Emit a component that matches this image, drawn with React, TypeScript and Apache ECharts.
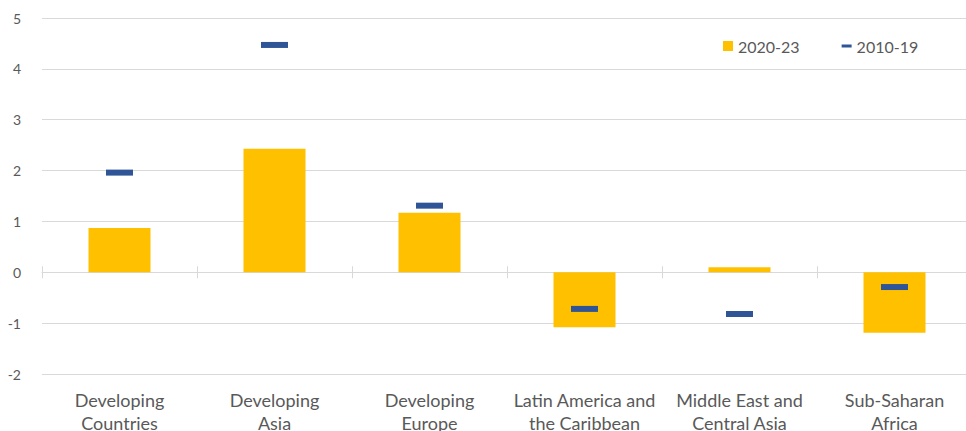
import React, { useEffect, useRef } from "react";
import * as echarts from "echarts";

const categories = [
  "Developing\nCountries",
  "Developing\nAsia",
  "Developing\nEurope",
  "Latin America and\nthe Caribbean",
  "Middle East and\nCentral Asia",
  "Sub-Saharan\nAfrica",
];
const values2020_23 = [0.87, 2.43, 1.17, -1.08, 0.1, -1.19];
const values2010_19 = [1.96, 4.47, 1.31, -0.72, -0.82, -0.29];
const seriesNames = ["2020-23", "2010-19"];
const yMin = -2;
const yMax = 5;

export default function App() {
  const ref = useRef<HTMLDivElement>(null);
  useEffect(() => {
    if (!ref.current) return;
    const chart = echarts.init(ref.current, null, { renderer: "svg" });
    const font = "Lato, 'Open Sans', sans-serif";
    const gridBox = {
      left: 42,
      right: -6,
      top: 18,
      bottom: 57,
      containLabel: false,
      outerBoundsMode: "none",
    };
    chart.setOption({
      animation: false,
      textStyle: { fontFamily: font },
      grid: [gridBox, { ...gridBox }],
      legend: {
        left: 718,
        top: 33,
        itemWidth: 10,
        itemHeight: 10,
        itemGap: 42,
        textStyle: { fontSize: 16, color: "#595959", fontFamily: font },
        data: [
          { name: seriesNames[0], icon: "rect" },
          { name: seriesNames[1], icon: "path://M0,0M0,3.5h10v3h-10zM10,10" },
        ],
      },
      xAxis: [
        {
          type: "category",
          gridIndex: 0,
          data: categories,
          position: "bottom",
          axisLine: { onZero: true, lineStyle: { color: "#D9D9D9", width: 1 } },
          axisTick: { show: true, length: 6, lineStyle: { color: "#D9D9D9" } },
          axisLabel: {
            interval: 0,
            margin: 14,
            fontSize: 18,
            lineHeight: 23,
            color: "#595959",
            fontFamily: font,
          },
        },
        {
          type: "category",
          gridIndex: 1,
          data: categories,
          position: "top",
          axisLine: { show: false, onZero: true },
          axisTick: { show: true, length: 6, lineStyle: { color: "#D9D9D9" } },
          axisLabel: { show: false },
        },
      ],
      yAxis: [
        {
          type: "value",
          gridIndex: 0,
          min: yMin,
          max: yMax,
          interval: 1,
          axisLine: { show: false },
          axisTick: { show: false },
          splitLine: { lineStyle: { color: "#D9D9D9", width: 1 } },
          axisLabel: { margin: 21, fontSize: 14, color: "#595959", fontFamily: font },
        },
        {
          type: "value",
          gridIndex: 1,
          min: yMin,
          max: yMax,
          interval: 1,
          show: false,
          splitLine: { show: false },
        },
      ],
      series: [
        {
          name: seriesNames[0],
          type: "bar",
          xAxisIndex: 0,
          yAxisIndex: 0,
          data: values2020_23,
          barWidth: "40%",
          itemStyle: { color: "#FFC000" },
        },
        {
          name: seriesNames[1],
          type: "scatter",
          xAxisIndex: 0,
          yAxisIndex: 0,
          data: values2010_19,
          symbol: "rect",
          symbolSize: [27, 6],
          itemStyle: { color: "#2F5597", opacity: 1 },
          z: 5,
        },
      ],
    });
    return () => chart.dispose();
  }, []);
  return (
    <div
      ref={ref}
      style={{ position: "fixed", left: 0, top: 0, width: 966, height: 431, background: "#fff" }}
    />
  );
}
